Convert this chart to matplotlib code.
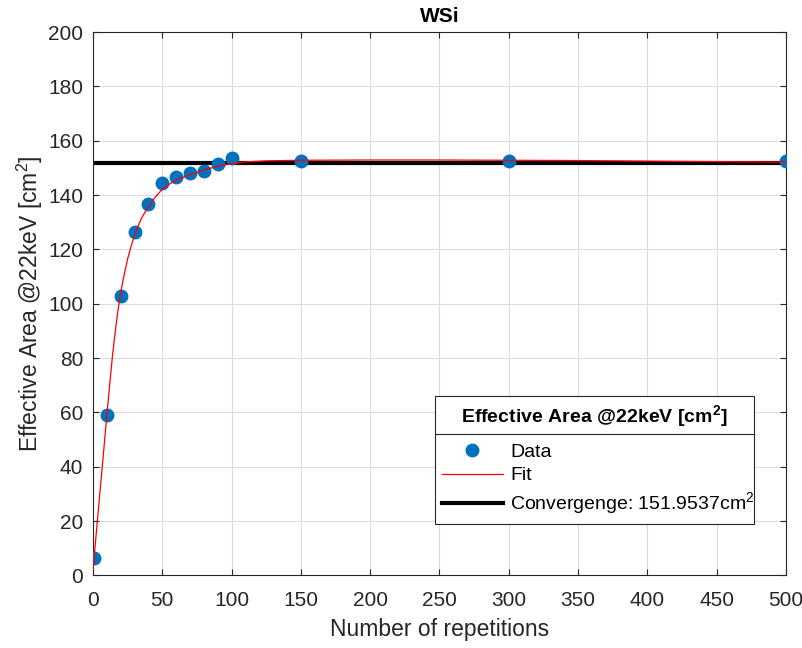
import numpy as np
import matplotlib
matplotlib.use("Agg")
import matplotlib.pyplot as plt
from matplotlib.lines import Line2D

plt.rcParams['font.family'] = ['Liberation Sans', 'DejaVu Sans']
plt.rcParams['mathtext.fontset'] = 'custom'
plt.rcParams['mathtext.rm'] = 'Liberation Sans'
plt.rcParams['mathtext.bf'] = 'Liberation Sans:bold'

# measured effective area vs number of repetitions
reps = [1, 10, 20, 30, 40, 50, 60, 70, 80, 90, 100, 150, 300, 500]
area = [6.5, 59.1, 103.0, 126.5, 136.8, 144.3, 146.5, 148.0, 149.0, 151.4,
        153.5, 152.7, 152.7, 152.7]

# fitted curve
fit_x = [0, 2, 5, 8, 10, 12, 14, 16, 18, 20, 22, 25, 28, 30, 32, 35, 40,
         45, 50, 55, 60, 70, 80, 90, 100, 110, 125, 150, 200, 250, 300,
         350, 400, 450, 500]
fit_y = [2.0, 13.5, 30.5, 47.5, 59.0, 70.0, 80.5, 89.5, 97.5, 104.0,
         109.5, 116.5, 122.0, 125.3, 128.0, 131.5, 135.8, 139.3, 142.1,
         144.0, 145.5, 147.5, 149.2, 150.6, 151.6, 152.2, 152.6, 152.8,
         152.9, 152.9, 152.8, 152.7, 152.5, 152.3, 152.1]

convergence = 151.9537

fig = plt.figure(figsize=(8.03, 6.48), dpi=100)
ax = fig.add_axes([0.1158, 0.1119, 0.863, 0.8387])

ax.plot(reps, area, 'o', color='#0072BD', markersize=9, label='Data', zorder=3)
ax.plot(fit_x, fit_y, '-', color='#FF0000', lw=0.9, label='Fit', zorder=4)
ax.axhline(convergence, color='black', lw=3,
           label='Convergenge: %.4fcm$^2$' % convergence, zorder=2)

ax.set_xlim(0, 500)
ax.set_ylim(0, 200)
ax.set_xticks(np.arange(0, 501, 50))
ax.set_yticks(np.arange(0, 201, 20))
ax.grid(True, color='#dcdcdc', lw=0.8)
ax.set_axisbelow(True)
ax.tick_params(direction='in', top=True, right=True, length=4,
               labelsize=15, colors='#262626', width=0.8)
ax.tick_params(axis='x', pad=11)
ax.tick_params(axis='y', pad=7)
for s in ax.spines.values():
    s.set_color('#262626')
    s.set_linewidth(0.8)

ax.set_xlabel('Number of repetitions', fontsize=16.5, color='#262626',
              labelpad=6)
ax.set_ylabel('Effective Area @22keV [cm$^2$]', fontsize=16.5,
              color='#262626', labelpad=2)
ax.set_title('WSi', fontsize=15, fontweight='bold', pad=7)

leg = ax.legend(loc='upper left', bbox_to_anchor=(0.4935, 0.102, 0.4605, 0.228),
                mode='expand', borderaxespad=0, fancybox=False,
                edgecolor='#262626', framealpha=1, fontsize=14,
                handlelength=3.15, handletextpad=0.36, labelspacing=0.3,
                borderpad=0.35,
                title=r'Effective Area @22keV [cm$^\mathbf{2}$]',
                title_fontproperties={'weight': 'bold', 'size': 14})
leg.get_frame().set_linewidth(0.8)
leg._legend_box.sep = 10

# rule under the legend title
fig.canvas.draw()
fb = leg.get_frame().get_window_extent()
tb = leg.get_title().get_window_extent()
inv = fig.transFigure.inverted()
y_sep = tb.y0 - 4
(x0, y0), (x1, _) = inv.transform([(fb.x0, y_sep), (fb.x1, y_sep)])
fig.add_artist(Line2D([x0, x1], [y0, y0], transform=fig.transFigure,
                      color='#262626', lw=0.8, zorder=10))

fig.savefig('out.png', dpi=100)
